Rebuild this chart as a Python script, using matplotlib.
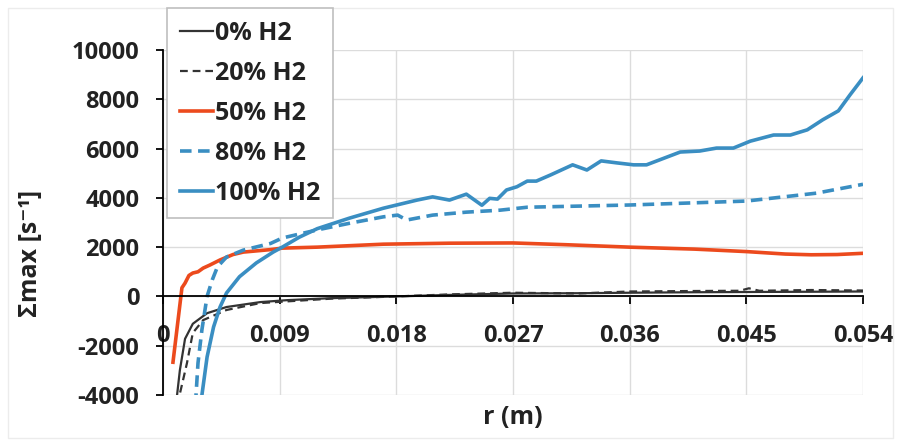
import numpy as np
from matplotlib import pyplot as plt
from matplotlib.patches import Rectangle

# data
r_0 = [0.0010, 0.0013, 0.0017, 0.0023, 0.0034, 0.0049, 0.0075, 0.0096, 0.013, 0.018,
       0.022, 0.027, 0.032, 0.036, 0.041, 0.045, 0.050, 0.054]
v_0 = [-4400, -3000, -1720, -1110, -680, -430, -230, -150, -70, 0,
       60, 120, 130, 150, 170, 180, 190, 200]

r_20 = [0.0011, 0.0015, 0.00185, 0.0023, 0.0031, 0.0049, 0.0075, 0.0096, 0.013, 0.018,
        0.022, 0.027, 0.032, 0.036, 0.041, 0.0445, 0.0452, 0.0460, 0.050, 0.054]
v_20 = [-4400, -3500, -2700, -1480, -960, -550, -270, -200, -90, 0,
        80, 150, 120, 200, 220, 230, 330, 230, 260, 240]

r_50 = [0.00077, 0.00146, 0.0017, 0.0020, 0.0023, 0.0027, 0.0031, 0.0036, 0.0044, 0.0054,
        0.0062, 0.0083, 0.0092, 0.0119, 0.017, 0.0221, 0.027, 0.031, 0.036, 0.041,
        0.045, 0.048, 0.050, 0.052, 0.054]
v_50 = [-2670, 350, 540, 850, 950, 1000, 1150, 1270, 1480, 1700,
        1800, 1900, 1960, 2000, 2120, 2160, 2170, 2100, 2000, 1920,
        1820, 1720, 1690, 1700, 1750]

r_80 = [0.0025, 0.0027, 0.0030, 0.0034, 0.0038, 0.0042, 0.0049, 0.0062, 0.0083, 0.0092,
        0.0119, 0.0144, 0.0170, 0.0181, 0.0188, 0.0208, 0.0234, 0.0260, 0.0281, 0.036,
        0.045, 0.0504, 0.054]
v_80 = [-4400, -2700, -1360, 0, 670, 1200, 1600, 1880, 2150, 2370,
        2700, 2970, 3230, 3300, 3100, 3300, 3420, 3500, 3620, 3710,
        3870, 4190, 4550]

r_100 = [0.0029, 0.0034, 0.0039, 0.0044, 0.0049, 0.0059, 0.0072, 0.0085, 0.0092, 0.0105,
         0.0119, 0.0144, 0.0170, 0.0196, 0.0208, 0.0221, 0.0234, 0.0246, 0.0252, 0.0258,
         0.0265, 0.0273, 0.0281, 0.0288, 0.0299, 0.0316, 0.0327, 0.0338, 0.0350, 0.0363,
         0.0373, 0.0383, 0.0399, 0.0414, 0.0427, 0.0440, 0.0453, 0.0471, 0.0484, 0.0497,
         0.0509, 0.0521, 0.0530, 0.0540]
v_100 = [-4400, -2460, -1240, -430, 140, 800, 1360, 1800, 2000, 2400,
         2750, 3180, 3580, 3910, 4040, 3910, 4150, 3700, 3980, 3950,
         4320, 4450, 4680, 4680, 4930, 5340, 5130, 5500, 5420, 5340,
         5340, 5540, 5860, 5900, 6020, 6020, 6300, 6550, 6550, 6760,
         7170, 7530, 8180, 8870]

x_ticks = [0, 0.009, 0.018, 0.027, 0.036, 0.045, 0.054]
x_labels = ['0', '0.009', '0.018', '0.027', '0.036', '0.045', '0.054']
y_ticks = [-4000, -2000, 0, 2000, 4000, 6000, 8000, 10000]

red = '#ec4a1d'
blue = '#3a8ec2'
dark = '#333333'

plt.rcParams['font.family'] = ['Open Sans', 'DejaVu Sans']
plt.rcParams['font.weight'] = 'bold'
plt.rcParams['axes.unicode_minus'] = False

fig = plt.figure(figsize=(9.01, 4.41), dpi=100)
ax = fig.add_axes([163/901, 1-395/441, 700/901, 345/441])

ax.plot(r_0, v_0, color=dark, lw=1.6, label='0% H2')
ax.plot(r_20, v_20, color=dark, lw=1.6, dashes=(3.5, 2.2), label='20% H2')
ax.plot(r_50, v_50, color=red, lw=2.6, label='50% H2')
ax.plot(r_80, v_80, color=blue, lw=2.6, dashes=(3.2, 1.8), label='80% H2')
ax.plot(r_100, v_100, color=blue, lw=2.6, label='100% H2')

ax.set_xlim(0, 0.054)
ax.set_ylim(-4000, 10000)
ax.set_xticks(x_ticks)
ax.set_xticklabels(x_labels)
ax.set_yticks(y_ticks)
ax.grid(True, color='#dcdcdc', lw=1)
ax.set_axisbelow(True)

ax.spines['top'].set_visible(False)
ax.spines['right'].set_visible(False)
ax.spines['bottom'].set_position(('data', 0))
ax.spines['bottom'].set_color('black')
ax.spines['bottom'].set_linewidth(1.3)
ax.spines['left'].set_linewidth(1.3)
ax.tick_params(axis='x', direction='out', length=6, width=1.3, pad=14, labelsize=17)
ax.tick_params(axis='y', direction='out', length=5, width=1.3, pad=12, labelsize=17)
for t in ax.get_xticklabels() + ax.get_yticklabels():
    t.set_fontweight('bold')
    t.set_color('#222222')

fig.text(30/901, 1-253/441, 'Σmax [s⁻¹]', rotation=90, ha='center', va='center',
         fontsize=18, fontweight='bold', color='#222222')
fig.text(513/901, 1-417/441, 'r (m)', ha='center', va='center',
         fontsize=18, fontweight='bold', color='#222222')

leg = fig.legend(loc='upper left', bbox_to_anchor=(167/901, 1-8/441), borderaxespad=0,
                 fontsize=18, handlelength=1.35, handletextpad=0.08, labelspacing=0.6,
                 borderpad=0.5, fancybox=False, framealpha=1, edgecolor='#bfbfbf')
leg.get_frame().set_linewidth(1.2)
for t in leg.get_texts():
    t.set_fontweight('bold')
    t.set_color('#222222')

fig.patches.append(Rectangle((8/901, 3/441), 885/901, 430/441, transform=fig.transFigure,
                             fill=False, edgecolor='#ececec', lw=1))

plt.savefig('out.png', dpi=100)
